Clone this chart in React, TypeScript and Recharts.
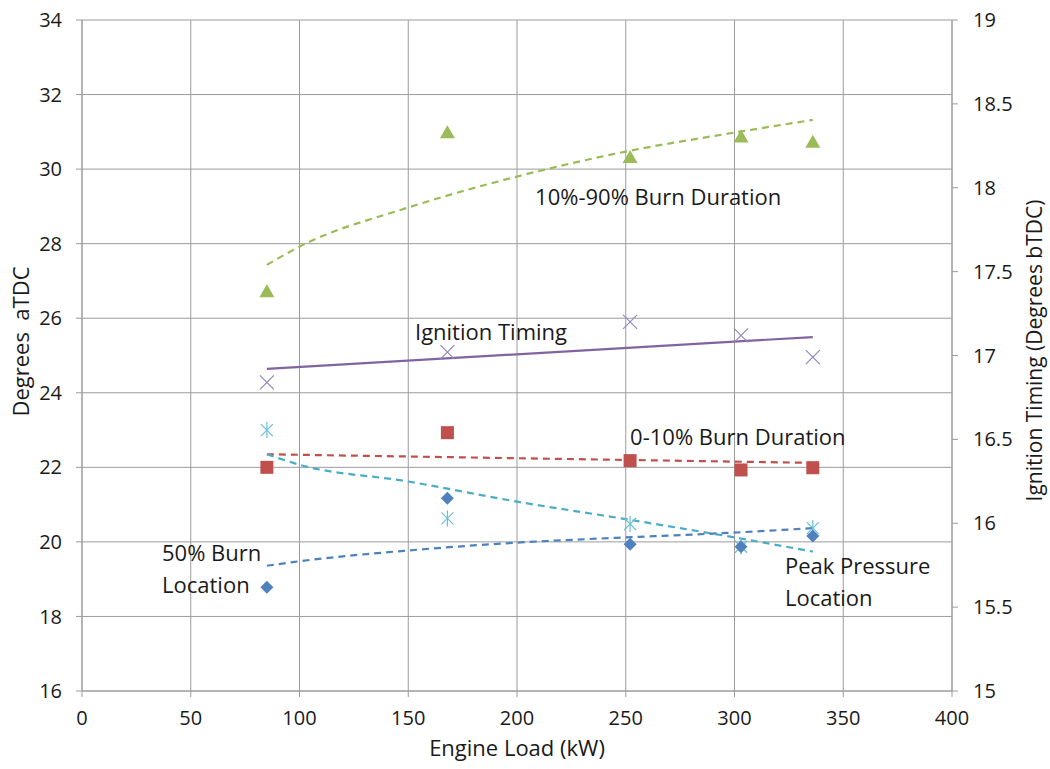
import React from "react";
import {
  ComposedChart,
  Line,
  Scatter,
  XAxis,
  YAxis,
  CartesianGrid,
  ReferenceDot,
} from "recharts";

// measured engine loads (kW)
const loads = [85, 168, 252, 303, 336];

// left axis: degrees aTDC
const burn1090 = [26.7, 30.96, 30.3, 30.85, 30.71];
const burn010 = [22.0, 22.93, 22.18, 21.93, 21.99];
const peakPressure = [23.0, 20.63, 20.48, 19.87, 20.37];
const burn50 = [18.78, 21.17, 19.94, 19.87, 20.16];

// right axis: degrees bTDC
const ignition = [16.84, 17.02, 17.2, 17.12, 16.99];

// trend lines
const trendLoads = [85, 100, 150, 200, 250, 300, 336];
const burn1090Trend = [27.43, 27.92, 28.97, 29.8, 30.47, 30.98, 31.32];
const burn50Trend = [19.36, 19.48, 19.77, 19.98, 20.12, 20.25, 20.37];
const peakPressureTrend = [22.35, 22.07, 21.62, 21.08, 20.61, 20.12, 19.74];
const straightTrendLoads = [85, 336];
const burn010Trend = [22.35, 22.12];
const ignitionTrend = [16.92, 17.11];

const xTicks = [0, 50, 100, 150, 200, 250, 300, 350, 400];
const leftTicks = [16, 18, 20, 22, 24, 26, 28, 30, 32, 34];
const rightTicks = [15, 15.5, 16, 16.5, 17, 17.5, 18, 18.5, 19];

const annotations = [
  { lines: ["10%-90% Burn Duration"], x: 208.3, y: 29.25 },
  { lines: ["Ignition Timing"], x: 153.1, y: 25.62 },
  { lines: ["0-10% Burn Duration"], x: 252, y: 22.8 },
  { lines: ["50% Burn", "Location"], x: 36.8, y: 19.7 },
  { lines: ["Peak Pressure", "Location"], x: 323.2, y: 19.35 },
];

const toPoints = (xs: number[], ys: number[]) =>
  xs.map((load, i) => ({ load, v: ys[i] }));

const FONT = "'Open Sans', sans-serif";
const TEXT = "#1a1a1a";
const GRID = "#9c9c9c";

const GREEN = "#9BBB59";
const RED = "#C0504D";
const PURPLE = "#8064A2";
const CYAN = "#4BACC6";
const BLUE = "#4F81BD";

const Triangle = ({ cx, cy }: any) => (
  <polygon
    points={`${cx},${cy - 8} ${cx + 7.5},${cy + 5} ${cx - 7.5},${cy + 5}`}
    fill={GREEN}
  />
);
const Square = ({ cx, cy }: any) => (
  <rect x={cx - 6.5} y={cy - 6.5} width={13} height={13} fill={RED} />
);
const Diamond = ({ cx, cy }: any) => (
  <polygon
    points={`${cx},${cy - 6.5} ${cx + 6.5},${cy} ${cx},${cy + 6.5} ${cx - 6.5},${cy}`}
    fill={BLUE}
  />
);
const Cross = ({ cx, cy }: any) => (
  <g stroke="#9385c0" strokeWidth={1.2}>
    <line x1={cx - 7} y1={cy - 7} x2={cx + 7} y2={cy + 7} />
    <line x1={cx - 7} y1={cy + 7} x2={cx + 7} y2={cy - 7} />
  </g>
);
const Asterisk = ({ cx, cy }: any) => (
  <g stroke="#6cc0d6" strokeWidth={1.2}>
    <line x1={cx} y1={cy - 8} x2={cx} y2={cy + 8} />
    <line x1={cx - 6} y1={cy - 6} x2={cx + 6} y2={cy + 6} />
    <line x1={cx - 6} y1={cy + 6} x2={cx + 6} y2={cy - 6} />
  </g>
);

const annoLabel = (lines: string[]) => (p: any) => {
  const vb = p.viewBox;
  return (
    <text
      x={vb.x}
      y={vb.y}
      fontFamily={FONT}
      fontSize={22}
      fill={TEXT}
      textAnchor="start"
    >
      {lines.map((t, i) => (
        <tspan key={i} x={vb.x} dy={i === 0 ? "0.35em" : 32}>
          {t}
        </tspan>
      ))}
    </text>
  );
};

const tickStyle = { fontSize: 20, fill: TEXT, fontFamily: FONT };

const axisTitle = (
  text: string,
  dx: (vb: any) => number,
  dy: (vb: any) => number,
  angle: number,
  size = 22
) => ({
  content: (p: any) => {
    const vb = p.viewBox;
    const cx = dx(vb);
    const cy = dy(vb);
    return (
      <text
        x={cx}
        y={cy}
        dy="0.35em"
        textAnchor="middle"
        transform={angle ? `rotate(${angle} ${cx} ${cy})` : undefined}
        fontFamily={FONT}
        fontSize={size}
        fill={TEXT}
        style={{ whiteSpace: "pre" }}
      >
        {text}
      </text>
    );
  },
});

export default function App() {
  return (
    <div
      style={{
        position: "absolute",
        left: 0,
        top: 0,
        width: 1050,
        height: 769,
        background: "#fff",
      }}
    >
      <ComposedChart
        width={1050}
        height={769}
        margin={{ top: 20, right: 0, bottom: 0, left: 0 }}
      >
        <CartesianGrid yAxisId="left" stroke={GRID} strokeWidth={1} />
        <XAxis
          type="number"
          dataKey="load"
          domain={[0, 400]}
          ticks={xTicks}
          interval={0}
          height={78}
          stroke={GRID}
          tickSize={6}
          tickMargin={14}
          tick={tickStyle}
          label={axisTitle(
            "Engine Load (kW)",
            (vb) => vb.x + vb.width / 2,
            (vb) => vb.y + 57,
            0
          )}
        />
        <YAxis
          yAxisId="left"
          dataKey="v"
          domain={[16, 34]}
          ticks={leftTicks}
          interval={0}
          width={82}
          stroke={GRID}
          tickSize={6}
          tickMargin={14}
          tick={tickStyle}
          label={axisTitle(
            "Degrees  aTDC",
            (vb) => vb.x + 21,
            (vb) => vb.y + vb.height / 2 - 14,
            -90
          )}
        />
        <YAxis
          yAxisId="right"
          orientation="right"
          dataKey="v"
          domain={[15, 19]}
          ticks={rightTicks}
          interval={0}
          width={98}
          stroke={GRID}
          tickSize={6}
          tickMargin={15}
          tick={tickStyle}
          label={axisTitle(
            "Ignition Timing (Degrees bTDC)",
            (vb) => vb.x + 83,
            (vb) => vb.y + vb.height / 2 - 5,
            -90,
            21
          )}
        />

        <Line
          yAxisId="left"
          data={toPoints(trendLoads, burn1090Trend)}
          dataKey="v"
          type="monotone"
          stroke={GREEN}
          strokeWidth={2.2}
          strokeDasharray="7 5"
          dot={false}
          isAnimationActive={false}
        />
        <Line
          yAxisId="left"
          data={toPoints(straightTrendLoads, burn010Trend)}
          dataKey="v"
          type="linear"
          stroke={RED}
          strokeWidth={2.2}
          strokeDasharray="7 5"
          dot={false}
          isAnimationActive={false}
        />
        <Line
          yAxisId="left"
          data={toPoints(trendLoads, peakPressureTrend)}
          dataKey="v"
          type="monotone"
          stroke={CYAN}
          strokeWidth={2.2}
          strokeDasharray="7 5"
          dot={false}
          isAnimationActive={false}
        />
        <Line
          yAxisId="left"
          data={toPoints(trendLoads, burn50Trend)}
          dataKey="v"
          type="monotone"
          stroke={BLUE}
          strokeWidth={2.2}
          strokeDasharray="7 5"
          dot={false}
          isAnimationActive={false}
        />
        <Line
          yAxisId="right"
          data={toPoints(straightTrendLoads, ignitionTrend)}
          dataKey="v"
          type="linear"
          stroke={PURPLE}
          strokeWidth={2.2}
          dot={false}
          isAnimationActive={false}
        />

        <Scatter
          yAxisId="left"
          data={toPoints(loads, burn1090)}
          dataKey="v"
          shape={Triangle}
          isAnimationActive={false}
        />
        <Scatter
          yAxisId="left"
          data={toPoints(loads, burn010)}
          dataKey="v"
          shape={Square}
          isAnimationActive={false}
        />
        <Scatter
          yAxisId="left"
          data={toPoints(loads, peakPressure)}
          dataKey="v"
          shape={Asterisk}
          isAnimationActive={false}
        />
        <Scatter
          yAxisId="left"
          data={toPoints(loads, burn50)}
          dataKey="v"
          shape={Diamond}
          isAnimationActive={false}
        />
        <Scatter
          yAxisId="right"
          data={toPoints(loads, ignition)}
          dataKey="v"
          shape={Cross}
          isAnimationActive={false}
        />

        {annotations.map((a, i) => (
          <ReferenceDot
            key={i}
            yAxisId="left"
            x={a.x}
            y={a.y}
            r={0}
            fill="none"
            stroke="none"
            label={{ content: annoLabel(a.lines) }}
          />
        ))}
      </ComposedChart>
    </div>
  );
}
